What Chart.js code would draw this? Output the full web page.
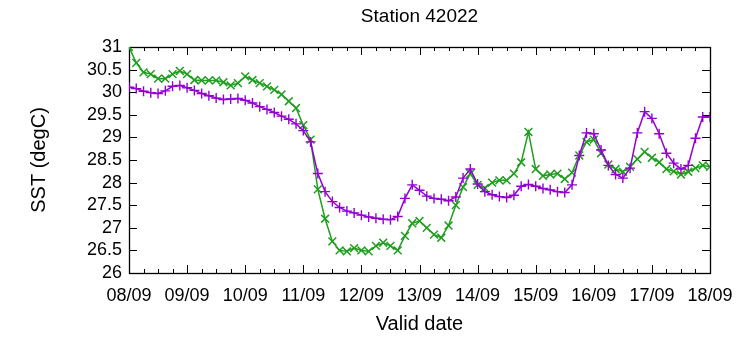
<!DOCTYPE html>
<html lang="en">
<head>
    <meta charset="UTF-8">
    <title>Station 42022</title>
    <script src="https://cdn.jsdelivr.net/npm/chart.js"></script>
    <style>
        html, body { margin: 0; padding: 0; background: #fff; }
        .wrap { width: 745px; height: 337px; position: relative; }
    </style>
</head>
<body>
    <div class="wrap">
        <canvas id="sstChart" width="745" height="337"></canvas>
    </div>
    <script>
        // 3-hourly values, 08/09 00h to 18/09 00h
        const dayLabels = ['08/09', '09/09', '10/09', '11/09', '12/09', '13/09', '14/09', '15/09', '16/09', '17/09', '18/09'];
        const stepHours = 3;
        const yTicks = [26, 26.5, 27, 27.5, 28, 28.5, 29, 29.5, 30, 30.5, 31];

        const purpleSeries = [
            30.11, 30.08, 30.02, 29.99, 29.97, 30.03, 30.13, 30.15, 30.10,
            30.04, 29.97, 29.92, 29.87, 29.84, 29.85, 29.86, 29.82,
            29.76, 29.68, 29.62, 29.55, 29.47, 29.40, 29.30, 29.15,
            28.90, 28.20, 27.80, 27.58, 27.45, 27.37, 27.33, 27.28,
            27.24, 27.21, 27.19, 27.18, 27.25, 27.65, 27.95, 27.83,
            27.70, 27.65, 27.63, 27.60, 27.68, 28.10, 28.30, 27.97,
            27.80, 27.73, 27.69, 27.67, 27.72, 27.92, 27.96, 27.92,
            27.87, 27.84, 27.80, 27.78, 27.95, 28.60, 29.10, 29.08,
            28.72, 28.38, 28.18, 28.10, 28.32, 29.10, 29.57, 29.42,
            29.08, 28.65, 28.43, 28.30, 28.38, 28.98, 29.45, 29.45
        ];

        const greenSeries = [
            31.00, 30.65, 30.44, 30.40, 30.30, 30.30, 30.40, 30.47, 30.40,
            30.27, 30.26, 30.26, 30.26, 30.22, 30.15, 30.20, 30.35,
            30.27, 30.20, 30.13, 30.05, 29.95, 29.80, 29.65, 29.27,
            28.95, 27.85, 27.20, 26.70, 26.50, 26.48, 26.55, 26.50,
            26.48, 26.60, 26.67, 26.60, 26.50, 26.82, 27.10, 27.15,
            27.00, 26.85, 26.78, 27.05, 27.50, 27.90, 28.20, 27.95,
            27.88, 28.00, 28.05, 28.05, 28.20, 28.45, 29.12, 28.30,
            28.15, 28.18, 28.20, 28.08, 28.22, 28.60, 28.90, 28.95,
            28.65, 28.40, 28.30, 28.24, 28.35, 28.52, 28.68, 28.55,
            28.45, 28.30, 28.25, 28.18, 28.24, 28.32, 28.38, 28.35
        ];

        const toPoints = (arr) => arr.map((v, i) => ({ x: i * stepHours, y: v }));

        const fontFam = "'Liberation Sans', Arial, sans-serif";

        // gnuplot style frame and inward ticks
        const frameTicks = {
            id: 'frameTicks',
            beforeDatasetsDraw(chart) {
                const { ctx, chartArea: a, scales } = chart;
                ctx.save();
                ctx.strokeStyle = '#000';
                ctx.lineWidth = 1;
                ctx.beginPath();
                scales.x.ticks.forEach(t => {
                    const px = Math.round(scales.x.getPixelForValue(t.value)) + 0.5;
                    const len = t.value % 24 === 0 ? 8 : 4;
                    ctx.moveTo(px, a.bottom); ctx.lineTo(px, a.bottom - len);
                    ctx.moveTo(px, a.top); ctx.lineTo(px, a.top + len);
                });
                scales.y.ticks.forEach(t => {
                    const py = Math.round(scales.y.getPixelForValue(t.value)) + 0.5;
                    ctx.moveTo(a.left, py); ctx.lineTo(a.left + 8, py);
                    ctx.moveTo(a.right, py); ctx.lineTo(a.right - 8, py);
                });
                ctx.stroke();
                ctx.lineWidth = 1.3;
                ctx.strokeRect(Math.round(a.left) + 0.5, Math.round(a.top) + 0.5,
                    Math.round(a.right - a.left), Math.round(a.bottom - a.top));
                ctx.restore();
            }
        };

        new Chart(document.getElementById('sstChart'), {
            type: 'line',
            data: {
                datasets: [
                    {
                        data: toPoints(purpleSeries),
                        borderColor: '#9400d3',
                        backgroundColor: '#9400d3',
                        borderWidth: 1.5,
                        pointStyle: 'cross',
                        pointRadius: 5,
                        pointBorderWidth: 1.4,
                        tension: 0
                    },
                    {
                        data: toPoints(greenSeries),
                        borderColor: '#1f9e1f',
                        backgroundColor: '#1f9e1f',
                        borderWidth: 1.5,
                        pointStyle: 'crossRot',
                        pointRadius: 5.5,
                        pointBorderWidth: 1.5,
                        tension: 0
                    }
                ]
            },
            options: {
                responsive: false,
                animation: false,
                layout: { padding: { left: 0, right: 35, top: 0, bottom: 0 } },
                plugins: {
                    legend: { display: false },
                    tooltip: { enabled: false },
                    title: { display: false }
                },
                scales: {
                    x: {
                        type: 'linear',
                        min: 0,
                        max: 240,
                        position: 'bottom',
                        afterFit(s) { s.height = 64; },
                        grid: { display: false, drawTicks: false },
                        border: { display: false },
                        ticks: {
                            stepSize: 6,
                            autoSkip: false,
                            maxRotation: 0,
                            padding: 12,
                            color: '#000',
                            font: { family: fontFam, size: 18 },
                            callback: (v) => v % 24 === 0 ? dayLabels[v / 24] : ''
                        },
                        title: {
                            display: true,
                            text: 'Valid date',
                            color: '#000',
                            font: { family: fontFam, size: 20 },
                            padding: { top: 0, bottom: 1 }
                        }
                    },
                    top: {
                        type: 'linear',
                        position: 'top',
                        min: 0,
                        max: 240,
                        afterFit(s) { s.height = 47; },
                        grid: { display: false, drawTicks: false },
                        border: { display: false },
                        ticks: { display: false },
                        title: {
                            display: true,
                            text: 'Station 42022',
                            color: '#000',
                            font: { family: fontFam, size: 19 },
                            padding: { top: 5, bottom: 0 }
                        }
                    },
                    y: {
                        type: 'linear',
                        min: 26,
                        max: 31,
                        afterFit(s) { s.width = 129; },
                        afterBuildTicks(s) { s.ticks = yTicks.map(v => ({ value: v })); },
                        grid: { display: false, drawTicks: false },
                        border: { display: false },
                        ticks: {
                            autoSkip: false,
                            padding: 7,
                            color: '#000',
                            font: { family: fontFam, size: 18 },
                            callback: (v) => String(v)
                        },
                        title: {
                            display: true,
                            text: 'SST (degC)',
                            color: '#000',
                            font: { family: fontFam, size: 20 },
                            padding: { top: 27, bottom: 0 }
                        }
                    }
                }
            },
            plugins: [frameTicks]
        });
    </script>
</body>
</html>
